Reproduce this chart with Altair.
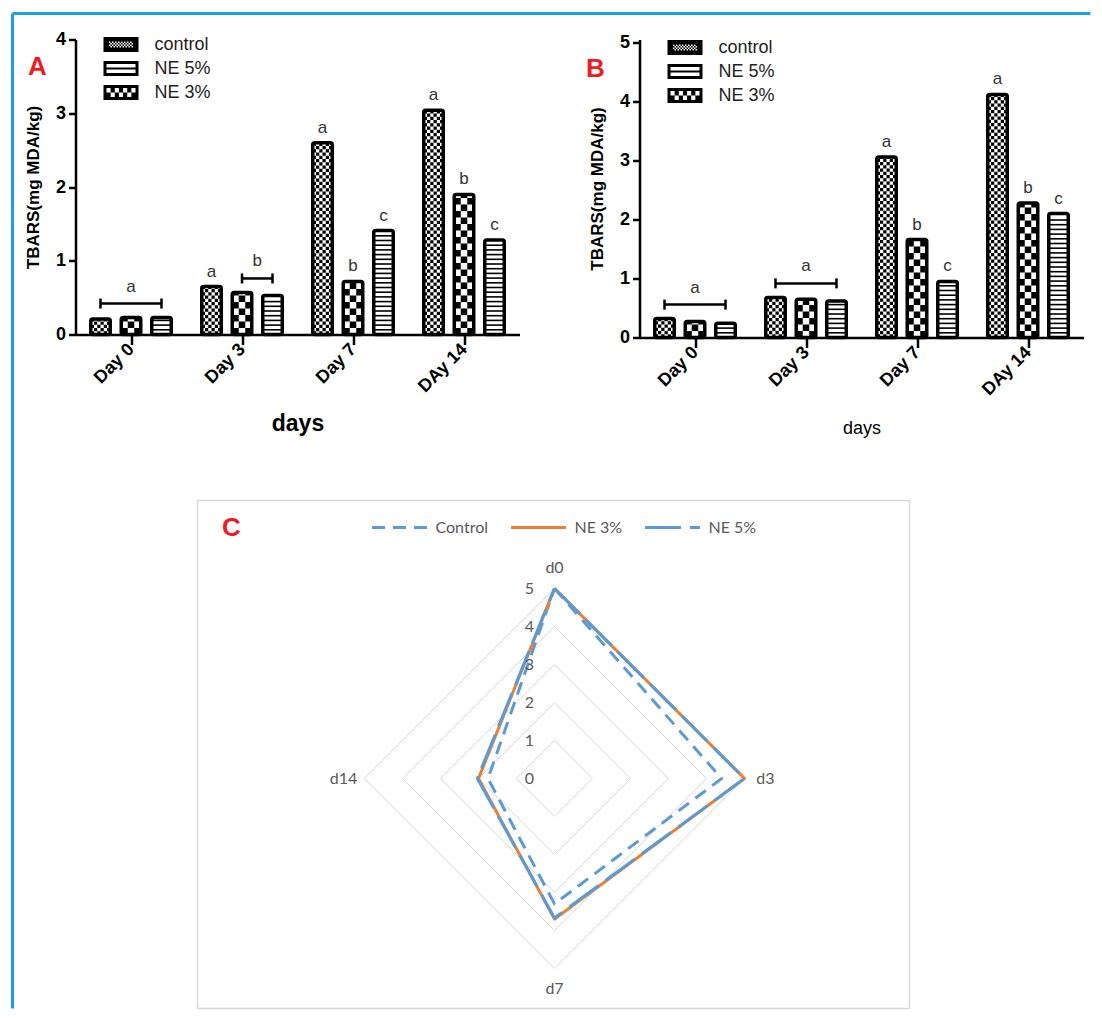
import json
import altair as alt
import pandas as pd

# ---------------- data ----------------
days = ["Day 0", "Day 3", "Day 7", "DAy 14"]
bar_series = ["control", "NE 3%", "NE 5%"]       # order of bars inside a group
legend_series = ["control", "NE 5%", "NE 3%"]    # order in the legend

a_control = [0.21, 0.65, 2.60, 3.04]
a_ne3 = [0.23, 0.57, 0.72, 1.90]
a_ne5 = [0.23, 0.53, 1.41, 1.28]
a_let_control = ["", "a", "a", "a"]
a_let_ne3 = ["", "", "b", "b"]
a_let_ne5 = ["", "", "c", "c"]
a_brackets = [[0, "control", "NE 5%", "a"], [1, "NE 3%", "NE 5%", "b"]]

b_control = [0.32, 0.68, 3.06, 4.12]
b_ne3 = [0.27, 0.65, 1.66, 2.28]
b_ne5 = [0.24, 0.62, 0.95, 2.10]
b_let_control = ["", "", "a", "a"]
b_let_ne3 = ["", "", "b", "b"]
b_let_ne5 = ["", "", "c", "c"]
b_brackets = [[0, "control", "NE 5%", "a"], [1, "control", "NE 5%", "a"]]

radar_axes = ["d0", "d3", "d7", "d14"]
radar_series = ["Control", "NE 3%", "NE 5%"]
radar_control = [5.0, 4.4, 3.3, 1.75]
radar_ne3 = [5.0, 5.0, 3.7, 2.0]
radar_ne5 = [5.0, 5.0, 3.67, 2.03]
radar_ticks = [0, 1, 2, 3, 4, 5]

# ---------------- styling / layout constants ----------------
FONT = "Liberation Sans"
XLFONT = "Lato"
FRAME_BLUE = "#1DA1E4"
XL_BLUE = "#5B9BD5"
XL_ORANGE = "#ED7D31"
RED = "#EE1C25"

PW = 444
PH_A = 295
PH_B = 298
PPU_A = PH_A / 4.0
PPU_B = 59.0
GROUP_PX = PW / len(days)
OFF = 30.5 / GROUP_PX
HW = 9.75 / GROUP_PX

xscale = alt.Scale(domain=[-0.5, len(days) - 0.5], nice=False, zero=False)
label_expr = json.dumps(days) + "[datum.value]"


def x_axis(title_size, title_weight, title_y):
    return alt.Axis(
        values=list(range(len(days))), labelExpr=label_expr, labelAngle=-45,
        labelAlign="right", labelBaseline="middle", labelFont=FONT, labelFontSize=18,
        labelFontWeight="bold", labelColor="black", labelPadding=2, labelFlush=False,
        labelOverlap=False, tickSize=10, tickWidth=2.5, tickColor="black",
        domainColor="black", domainWidth=2.5, grid=False, title="days", titleFont=FONT,
        titleFontSize=title_size, titleFontWeight=title_weight, titleColor="black",
        titleX=PW / 2, titleY=title_y, titleBaseline="middle", titleAlign="center")


def y_axis(ticks, ph):
    return alt.Axis(
        values=ticks, format="d", labelFont=FONT, labelFontSize=18, labelFontWeight="bold",
        labelColor="black", labelPadding=3, tickSize=7, tickWidth=2.5, tickColor="black",
        domainColor="black", domainWidth=2.5, grid=False, title="TBARS(mg MDA/kg)",
        titleFont=FONT, titleFontSize=17, titleFontWeight="bold", titleColor="black",
        titleX=-42, titleY=ph / 2, titleAngle=-90, titleBaseline="middle", titleAlign="center")


def rect_path(x0, y0, x1, y1, hole=False):
    if hole:
        return f"M{x0:.3f},{y0:.3f}V{y1:.3f}H{x1:.3f}V{y0:.3f}Z"
    return f"M{x0:.3f},{y0:.3f}H{x1:.3f}V{y1:.3f}H{x0:.3f}Z"


OUTER = rect_path(-1.75, -0.75, 1.75, 0.75)
p_ne5 = OUTER + rect_path(-1.45, -0.45, 1.45, -0.1, True) + rect_path(-1.45, 0.1, 1.45, 0.45, True)
_cells = []
_w = 2.9 / 7
for r in range(2):
    for c in range(7):
        if (r + c) % 2 == 0:
            _cells.append(rect_path(-1.45 + c * _w, -0.45 + r * 0.45, -1.45 + (c + 1) * _w, r * 0.45, True))
p_ne3 = OUTER + "".join(_cells)
_cells = []
for r in range(4):
    for c in range(16):
        if (r + c) % 2 == 0:
            _cells.append(rect_path(-1.2 + c * 0.15, -0.3 + r * 0.15, -1.2 + (c + 1) * 0.15, -0.3 + (r + 1) * 0.15, True))
p_control = OUTER + "".join(_cells)
legend_paths = {"control": p_control, "NE 5%": p_ne5, "NE 3%": p_ne3}


def bar_panel(vals, lets, brackets, ticks, ph, ppu, letter, letter_pos, legend_y, title_size, title_weight, title_y):
    rows = []
    for s, name in enumerate(bar_series):
        for g in range(len(days)):
            rows.append(dict(g=g, s=s, series=name, value=vals[name][g], letter=lets[name][g]))
    df = pd.DataFrame(rows)
    yscale = alt.Scale(domain=[0, ph / ppu], nice=False, zero=True)
    xa = x_axis(title_size, title_weight, title_y)
    ya = y_axis(ticks, ph)

    def X(f):
        return alt.X(f"{f}:Q", scale=xscale, axis=xa)

    def Y(f):
        return alt.Y(f"{f}:Q", scale=yscale, axis=ya)

    cx = f"datum.g + (datum.s - 1) * {OFF}"
    base = alt.Chart(df).transform_calculate(cx=cx).transform_calculate(
        xa=f"datum.cx - {HW}", xb=f"datum.cx + {HW}", zero="0")

    white = base.mark_rect(color="white").encode(x=X("xa"), x2="xb", y=Y("value"), y2="zero")

    def checker(name, ncol, cell_px):
        ch = cell_px / ppu
        cw = 2 * HW / ncol
        return (base.transform_filter(f"datum.series == '{name}'")
                .transform_calculate(rows=f"sequence(0, ceil(datum.value / {ch}))")
                .transform_flatten(["rows"], as_=["r"])
                .transform_calculate(cols=f"sequence(0, {ncol})")
                .transform_flatten(["cols"], as_=["c"])
                .transform_filter("(datum.r + datum.c) % 2 == 0")
                .transform_calculate(px0=f"datum.xa + datum.c * {cw}",
                                     px1=f"datum.xa + (datum.c + 1) * {cw}",
                                     py0=f"datum.r * {ch}",
                                     py1=f"min((datum.r + 1) * {ch}, datum.value)")
                .mark_rect(color="black")
                .encode(x=X("px0"), x2="px1", y=Y("py1"), y2="py0"))

    fine = checker("control", 6, 3.25)
    coarse = checker("NE 3%", 3, 6.5)
    st = 4.7 / ppu
    stripes = (base.transform_filter("datum.series == 'NE 5%'")
               .transform_calculate(ks=f"sequence(1, ceil(datum.value / {st}))")
               .transform_flatten(["ks"], as_=["k"])
               .transform_calculate(ys=f"datum.k * {st}")
               .transform_filter(f"datum.ys < datum.value - {st * 0.4}")
               .mark_rule(color="black", strokeWidth=1.6)
               .encode(x=X("xa"), x2="xb", y=Y("ys")))
    outline = base.mark_rect(filled=False, color="black", strokeWidth=3.5, cornerRadius=2).encode(
        x=X("xa"), x2="xb", y=Y("value"), y2="zero")

    bar_letters = base.transform_filter("datum.letter != ''").mark_text(
        font=FONT, fontSize=17, color="#333333", baseline="middle", align="center", dy=-15
    ).encode(x=X("cx"), y=Y("value"), text="letter:N")

    brows = []
    for g, s_from, s_to, lt in brackets:
        i0, i1 = bar_series.index(s_from), bar_series.index(s_to)
        top = max(vals[bar_series[i]][g] for i in range(i0, i1 + 1))
        brows.append(dict(g=g, s0=i0, s1=i1, letter=lt, top=top))
    bdf = pd.DataFrame(brows)
    bbase = alt.Chart(bdf).transform_calculate(
        xa=f"datum.g + (datum.s0 - 1) * {OFF}", xb=f"datum.g + (datum.s1 - 1) * {OFF}").transform_calculate(
        xm="(datum.xa + datum.xb) / 2")
    bline = bbase.mark_rule(color="black", strokeWidth=2.5, yOffset=-14).encode(x=X("xa"), x2="xb", y=Y("top"))
    bends = (bbase.transform_calculate(ends="[datum.xa, datum.xb]")
             .transform_flatten(["ends"], as_=["xe"])
             .mark_rule(color="black", strokeWidth=2.5, yOffset=-19, y2Offset=-9)
             .encode(x=X("xe"), y=Y("top"), y2="top"))
    btext = bbase.mark_text(font=FONT, fontSize=17, color="#333333", baseline="middle", align="center", dy=-31).encode(
        x=X("xm"), y=Y("top"), text="letter:N")

    leg = (alt.Chart(df).transform_filter("false")
           .mark_point(filled=True, color="black", opacity=1)
           .encode(x=X("g"), y=Y("value"),
                   shape=alt.Shape("series:N",
                                   scale=alt.Scale(domain=legend_series,
                                                   range=[legend_paths[n] for n in legend_series]),
                                   legend=alt.Legend(orient="none", legendX=35.5, legendY=legend_y, title=None,
                                                     symbolSize=400, symbolFillColor="black",
                                                     symbolStrokeWidth=0, symbolOpacity=1,
                                                     labelFont=FONT, labelFontSize=18, labelColor="#222222",
                                                     labelOffset=23.5, rowPadding=5, padding=0,
                                                     labelLimit=200))))

    tag = alt.Chart(pd.DataFrame({"t": [letter]})).mark_text(
        font=FONT, fontSize=26, fontWeight="bold", color=RED, align="center", baseline="middle"
    ).encode(x=alt.value(letter_pos[0]), y=alt.value(letter_pos[1]), text="t:N")

    return [white, fine, coarse, stripes, outline, bline, bends, btext, bar_letters, leg, tag]


A_layers = bar_panel({"control": a_control, "NE 3%": a_ne3, "NE 5%": a_ne5},
                     {"control": a_let_control, "NE 3%": a_let_ne3, "NE 5%": a_let_ne5},
                     a_brackets, [0, 1, 2, 3, 4], PH_A, PPU_A, "A", (-38, 27.5), -5, 23, "bold", 89)
B_layers = bar_panel({"control": b_control, "NE 3%": b_ne3, "NE 5%": b_ne5},
                     {"control": b_let_control, "NE 3%": b_let_ne3, "NE 5%": b_let_ne5},
                     b_brackets, [0, 1, 2, 3, 4, 5], PH_B, PPU_B, "B", (-44, 29), -2, 18, "normal", 91)

# decorative frame lines (positions relative to panel A plot origin at 75,39)
one = pd.DataFrame({"k": [0]})
vline = alt.Chart(one).mark_rule(color=FRAME_BLUE, strokeWidth=3).encode(
    x=alt.value(-63), y=alt.value(-26), y2=alt.value(969))
hline = alt.Chart(one).mark_rule(color=FRAME_BLUE, strokeWidth=3).encode(
    x=alt.value(-63), x2=alt.value(1015), y=alt.value(-26))

# ---------------- radar panel C (drawn under panel A, own scales) ----------------
C_CX, C_CY = 554 - 75, 778 - 39
UPX = 38
RMAX = 5
rx = alt.Scale(domain=[-RMAX, RMAX], range=[C_CX - RMAX * UPX, C_CX + RMAX * UPX], nice=False, zero=False)
ry = alt.Scale(domain=[-RMAX, RMAX], range=[C_CY + RMAX * UPX, C_CY - RMAX * UPX], nice=False, zero=False)
n_ax = len(radar_axes)
ang = f"datum.k * 2 * PI / {n_ax}"

box = alt.Chart(one).mark_rect(filled=False, color="#D9D9D9", strokeWidth=1.5).encode(
    x=alt.value(122), x2=alt.value(834), y=alt.value(461), y2=alt.value(969))

grid_df = pd.DataFrame([{"level": l, "k": k} for l in radar_ticks[1:] for k in range(n_ax + 1)])
grid = alt.Chart(grid_df).transform_calculate(
    gx=f"datum.level * sin({ang})", gy=f"datum.level * cos({ang})"
).mark_line(color="#D9D9D9", strokeWidth=1).encode(
    x=alt.X("gx:Q", scale=rx, axis=None), y=alt.Y("gy:Q", scale=ry, axis=None),
    detail="level:N", order="k:Q")

rvals = {"Control": radar_control, "NE 3%": radar_ne3, "NE 5%": radar_ne5}
rrows = []
for name in radar_series:
    for k in range(n_ax + 1):
        rrows.append({"series": name, "k": k, "v": rvals[name][k % n_ax]})
rdf = pd.DataFrame(rrows)

c_leg = alt.Legend(orient="none", legendX=295, legendY=459, direction="horizontal", title=None,
                   symbolType="stroke", symbolSize=3025, symbolStrokeWidth=3,
                   labelFont=XLFONT, labelFontSize=16, labelColor="#595959", labelOffset=7,
                   columnPadding=16, padding=0)


def radar_line(name):
    return (alt.Chart(rdf).transform_filter(f"datum.series == '{name}'")
            .transform_calculate(px=f"datum.v * sin({ang})", py=f"datum.v * cos({ang})")
            .mark_line(strokeWidth=3, strokeJoin="round")
            .encode(x=alt.X("px:Q", scale=rx, axis=None), y=alt.Y("py:Q", scale=ry, axis=None),
                    order="k:Q",
                    color=alt.Color("series:N", scale=alt.Scale(domain=radar_series,
                                                                range=[XL_BLUE, XL_ORANGE, XL_BLUE]),
                                    legend=c_leg),
                    strokeDash=alt.StrokeDash("series:N", scale=alt.Scale(domain=radar_series,
                                                                          range=[[13, 8], [1, 0], [36, 9]]),
                                              legend=c_leg)))


tick_df = pd.DataFrame({"level": radar_ticks})
tick_txt = alt.Chart(tick_df).transform_calculate(zx="0").mark_text(
    font=XLFONT, fontSize=16, color="#595959", align="center", baseline="middle", dx=-25
).encode(x=alt.X("zx:Q", scale=rx, axis=None), y=alt.Y("level:Q", scale=ry, axis=None), text="level:N")

ax_df = pd.DataFrame({"name": radar_axes, "k": list(range(n_ax))})
ax_txt = alt.Chart(ax_df).transform_calculate(
    lx=f"5.55 * sin({ang})", ly=f"5.55 * cos({ang})"
).mark_text(font=XLFONT, fontSize=16, color="#595959", align="center", baseline="middle").encode(
    x=alt.X("lx:Q", scale=rx, axis=None), y=alt.Y("ly:Q", scale=ry, axis=None), text="name:N")

c_tag = alt.Chart(pd.DataFrame({"t": ["C"]})).mark_text(
    font=FONT, fontSize=26, fontWeight="bold", color=RED, align="center", baseline="middle"
).encode(x=alt.value(156), y=alt.value(488.5), text="t:N")

C_layer = alt.layer(box, grid, radar_line("Control"), radar_line("NE 3%"), radar_line("NE 5%"),
                    tick_txt, ax_txt, c_tag)
A_layer = alt.layer(*A_layers, vline, hline)

AC = alt.layer(A_layer, C_layer).resolve_scale(x="independent", y="independent").properties(
    width=PW, height=PH_A)
B = alt.layer(*B_layers).properties(width=PW, height=PH_B)

chart = (alt.hconcat(AC, B, spacing=120, bounds="flush")
         .resolve_scale(shape="independent")
         .resolve_legend(shape="independent")
         .properties(padding={"left": 2.5, "top": 3.5, "right": 0, "bottom": 0}, background="white")
         .configure_view(stroke="transparent"))

chart.save("out.html", embed_options={"renderer": "svg", "actions": False})
